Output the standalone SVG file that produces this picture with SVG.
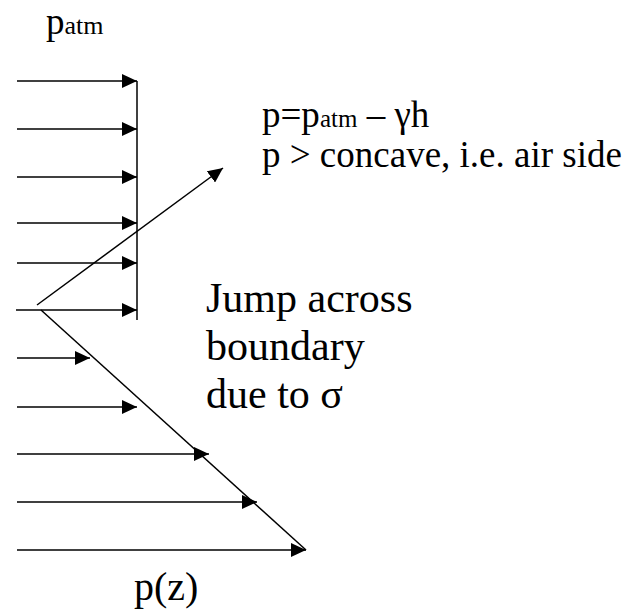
<svg xmlns="http://www.w3.org/2000/svg" width="644" height="613" viewBox="0 0 644 613">
<style>
.ln{stroke:#000;stroke-width:1.5;fill:none}
.ar{stroke:#000;stroke-width:1.5;fill:none;marker-end:url(#ah)}
text{font-family:"Liberation Serif","Times New Roman",serif;fill:#000}
</style>
<defs>
<marker id="ah" markerUnits="userSpaceOnUse" markerWidth="16" markerHeight="14" refX="15" refY="7" orient="auto">
<path d="M0,0 L15,7 L0,14 Z" fill="#000"/>
</marker>
</defs>
<rect width="644" height="613" fill="#fff"/>
<g id="connectors">
<line class="ar" x1="17" y1="81" x2="137" y2="81"/>
<line class="ar" x1="17" y1="129" x2="137" y2="129"/>
<line class="ar" x1="17" y1="177" x2="137" y2="177"/>
<line class="ar" x1="17" y1="223" x2="137" y2="223"/>
<line class="ar" x1="17" y1="263" x2="137" y2="263"/>
<line class="ar" x1="16" y1="310" x2="137" y2="310"/>
<line class="ar" x1="17" y1="358" x2="90" y2="358"/>
<line class="ar" x1="17" y1="407" x2="137" y2="407"/>
<line class="ar" x1="17" y1="454" x2="209" y2="454"/>
<line class="ar" x1="17" y1="502" x2="257" y2="502"/>
<line class="ar" x1="17" y1="550" x2="306" y2="550"/>
<line class="ln" x1="137" y1="81" x2="137" y2="320"/>
<line class="ln" x1="41" y1="310" x2="306" y2="550"/>
<line class="ar" x1="37" y1="305" x2="223" y2="168"/>
</g>
<g id="label-patm">
<text x="46" y="34" font-size="37">p<tspan font-size="26">atm</tspan></text>
</g>
<g id="label-formula">
<text x="262" y="127" font-size="37">p=p<tspan font-size="25">atm</tspan> – γh</text>
<text x="262" y="167" font-size="37">p &gt; concave, i.e. air side</text>
</g>
<g id="label-jump">
<text x="206" y="312" font-size="42">Jump across</text>
<text x="206" y="360" font-size="42">boundary</text>
<text x="206" y="408" font-size="42">due to σ</text>
</g>
<g id="label-pz">
<text x="134" y="600" font-size="40">p(z)</text>
</g>
</svg>
